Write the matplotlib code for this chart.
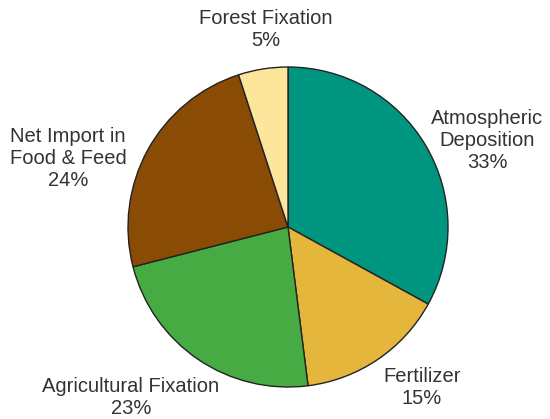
import matplotlib
matplotlib.use("Agg")
import matplotlib.pyplot as plt

categories = ["Atmospheric\nDeposition", "Fertilizer", "Agricultural Fixation",
              "Net Import in\nFood & Feed", "Forest Fixation"]
values = [33, 15, 23, 24, 5]
colors = ["#00957F", "#E4B63C", "#46AB43", "#8A4C05", "#FDE59C"]

# label centres (pixel offsets from pie centre, y up)
label_pos = [(199, 87), (134, -161), (-157, -171), (-220, 69), (-22, 197)]

W, H = 550, 419
cx, cy = 288, 227
R = 160

fig = plt.figure(figsize=(W / 100, H / 100), dpi=100)
ax = fig.add_axes([0, 0, 1, 1])
ax.set_xlim(-cx, W - cx)
ax.set_ylim(-(H - cy), cy)
ax.set_aspect("equal")
ax.axis("off")

ax.pie(values, colors=colors, startangle=90, counterclock=False, radius=R,
       center=(0, 0), frame=True,
       wedgeprops=dict(edgecolor="#222222", linewidth=1.0))
ax.set_xlim(-cx, W - cx)
ax.set_ylim(-(H - cy), cy)
ax.axis("off")

for cat, v, (x, y) in zip(categories, values, label_pos):
    ax.text(x, y, f"{cat}\n{v}%", ha="center", va="center", fontsize=14.5,
            family=["Liberation Sans", "DejaVu Sans"], color="#333333",
            linespacing=1.2)

fig.savefig("out.png", dpi=100)
